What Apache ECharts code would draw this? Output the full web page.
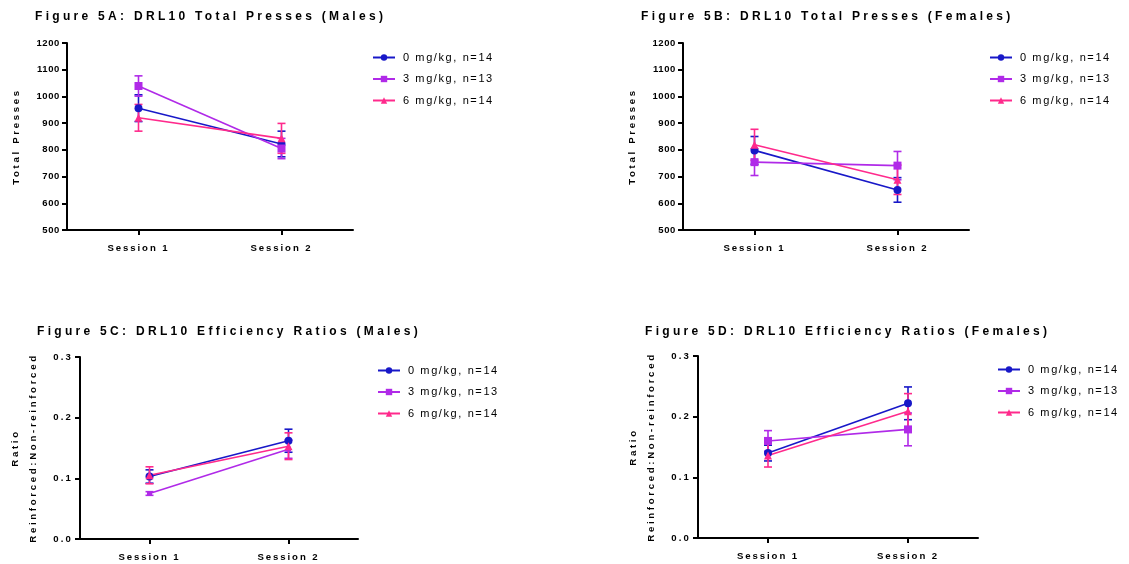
<!DOCTYPE html>
<html>
<head>
<meta charset="utf-8">
<script src="https://cdn.jsdelivr.net/npm/echarts@6/dist/echarts.min.js"></script>
<style>html,body{margin:0;padding:0;background:#fff}#c{width:1129px;height:564px}</style>
</head>
<body>
<div id="c"></div>
<script>
// ---------- data ----------
const categories = ['Session 1', 'Session 2'];
const groups = ['0 mg/kg, n=14', '3 mg/kg, n=13', '6 mg/kg, n=14'];
const titles = [
  'Figure 5A: DRL10 Total Presses (Males)',
  'Figure 5B: DRL10 Total Presses (Females)',
  'Figure 5C: DRL10 Efficiency Ratios (Males)',
  'Figure 5D: DRL10 Efficiency Ratios (Females)'
];
const yNames = ['Total Presses', 'Total Presses', 'Ratio\nReinforced:Non-reinforced', 'Ratio\nReinforced:Non-reinforced'];
const pressTicks = [500, 600, 700, 800, 900, 1000, 1100, 1200];
const ratioTicks = [0.0, 0.1, 0.2, 0.3];

// Fig 5A (males, total presses)
const aMean0 = [956, 822];   const aSem0 = [50, 48];
const aMean3 = [1039, 805];  const aSem3 = [38, 38];
const aMean6 = [920, 843];   const aSem6 = [50, 56];
// Fig 5B (females, total presses)
const bMean0 = [798, 650];   const bSem0 = [52, 46];
const bMean3 = [754, 741];   const bSem3 = [50, 53];
const bMean6 = [819, 688];   const bSem6 = [58, 55];
// Fig 5C (males, ratio)
const cMean0 = [0.103, 0.162]; const cSem0 = [0.011, 0.019];
const cMean3 = [0.075, 0.148]; const cSem3 = [0.003, 0.015];
const cMean6 = [0.105, 0.153]; const cSem6 = [0.014, 0.022];
// Fig 5D (females, ratio)
const dMean0 = [0.140, 0.222]; const dSem0 = [0.013, 0.027];
const dMean3 = [0.160, 0.179]; const dSem3 = [0.017, 0.027];
const dMean6 = [0.136, 0.209]; const dSem6 = [0.019, 0.029];

// ---------- letter spacing emulation (font-size keyed) ----------
const SPACING = {'b12': 3.3, 'n11': 1.6, 'b9.7': 2.65, 'b9.6': 1.9, 'b9.5': 0.6, 'b9.55': 2.2};
(function () {
  const P = CanvasRenderingContext2D.prototype;
  const orig = P.fillText;
  P.fillText = function (t, x, y, m) {
    try {
      const f = this.font || '';
      const mm = f.match(/([\d.]+)px/);
      const bold = /bold|[6-9]00/.test(f);
      const key = (bold ? 'b' : 'n') + (mm ? parseFloat(mm[1]) : '');
      const ls = SPACING[key];
      this.letterSpacing = (ls != null ? ls : 0) + 'px';
    } catch (e) {}
    return arguments.length > 3 ? orig.call(this, t, x, y, m) : orig.call(this, t, x, y);
  };
})();

// ---------- layout ----------
const FONT = 'Liberation Sans';
const colors = ['#1818c8', '#b02ae8', '#ff2a8c'];
const symbols = ['circle', 'rect', 'triangle'];
const panels = [
  {grid: {left: 67, top: 43, width: 286, height: 187}, title: {left: 35, top: 11}, legend: {left: 372, top: 52},
   ticks: pressTicks, yLabelSize: 9.5, yMargin: 7, nameGap: 42,
   means: [aMean0, aMean3, aMean6], sems: [aSem0, aSem3, aSem6], sym: [8, 8, 8]},
  {grid: {left: 683, top: 43, width: 286, height: 187}, title: {left: 641, top: 11}, legend: {left: 989, top: 52},
   ticks: pressTicks, yLabelSize: 9.5, yMargin: 7, nameGap: 42,
   means: [bMean0, bMean3, bMean6], sems: [bSem0, bSem3, bSem6], sym: [8, 8, 8]},
  {grid: {left: 80, top: 357, width: 278, height: 182}, title: {left: 37, top: 326}, legend: {left: 377, top: 365},
   ticks: ratioTicks, yLabelSize: 9.55, yMargin: 7, nameGap: 38,
   means: [cMean0, cMean3, cMean6], sems: [cSem0, cSem3, cSem6], sym: [8, 5, 8]},
  {grid: {left: 698, top: 356, width: 280, height: 182}, title: {left: 645, top: 326}, legend: {left: 997, top: 364},
   ticks: ratioTicks, yLabelSize: 9.55, yMargin: 7, nameGap: 38,
   means: [dMean0, dMean3, dMean6], sems: [dSem0, dSem3, dSem6], sym: [8, 8, 8]}
];

const axisLine = {show: true, lineStyle: {color: '#000', width: 2}};
const option = {
  animation: false,
  backgroundColor: '#fff',
  title: [], legend: [], grid: [], xAxis: [], yAxis: [], series: []
};

panels.forEach((p, pi) => {
  const ticks = p.ticks;
  const step = ticks[1] - ticks[0];
  option.grid.push(Object.assign({}, p.grid));
  option.title.push({
    text: titles[pi], left: p.title.left, top: p.title.top, padding: 0,
    textStyle: {fontFamily: FONT, fontWeight: 'bold', fontSize: 12, color: '#000'}
  });
  option.legend.push({
    data: groups, orient: 'vertical', left: p.legend.left, top: p.legend.top, padding: 0,
    itemWidth: 22, itemHeight: 8, itemGap: 10.5, selectedMode: false,
    textStyle: {fontFamily: FONT, fontSize: 11, color: '#000', padding: [0, 0, 0, 3]}
  });
  option.xAxis.push({
    type: 'category', gridIndex: pi, data: categories, boundaryGap: true,
    axisLine: axisLine,
    axisTick: {show: true, alignWithLabel: true, length: 5, lineStyle: {color: '#000', width: 2}},
    axisLabel: {fontFamily: FONT, fontWeight: 'bold', fontSize: 9.6, color: '#000', margin: 13},
    splitLine: {show: false}
  });
  option.yAxis.push({
    type: 'value', gridIndex: pi, min: ticks[0], max: ticks[ticks.length - 1], interval: step,
    name: yNames[pi], nameLocation: 'middle', nameGap: p.nameGap, nameRotate: 90,
    nameTextStyle: {fontFamily: FONT, fontWeight: 'bold', fontSize: 9.7, color: '#000', lineHeight: 18, align: 'center'},
    axisLine: axisLine,
    axisTick: {show: true, length: 5, lineStyle: {color: '#000', width: 2}},
    axisLabel: {fontFamily: FONT, fontWeight: 'bold', fontSize: p.yLabelSize, color: '#000', margin: p.yMargin,
      formatter: v => step < 1 ? v.toFixed(1) : String(v)},
    splitLine: {show: false}
  });
  groups.forEach((g, gi) => {
    const mean = p.means[gi], sem = p.sems[gi], col = colors[gi];
    option.series.push({
      type: 'custom', name: g + ' SEM', xAxisIndex: pi, yAxisIndex: pi, z: 2, silent: true,
      data: categories.map((c, i) => [i, mean[i] - sem[i], mean[i] + sem[i]]),
      encode: {x: 0, y: [1, 2]},
      renderItem: (params, api) => {
        const lo = api.coord([api.value(0), api.value(1)]);
        const hi = api.coord([api.value(0), api.value(2)]);
        const w = 4, st = {stroke: col, lineWidth: 1.6};
        return {type: 'group', children: [
          {type: 'line', shape: {x1: lo[0], y1: lo[1], x2: hi[0], y2: hi[1]}, style: st},
          {type: 'line', shape: {x1: lo[0] - w, y1: lo[1], x2: lo[0] + w, y2: lo[1]}, style: st},
          {type: 'line', shape: {x1: hi[0] - w, y1: hi[1], x2: hi[0] + w, y2: hi[1]}, style: st}
        ]};
      }
    });
    option.series.push({
      type: 'line', name: g, xAxisIndex: pi, yAxisIndex: pi, z: 3,
      data: mean, symbol: symbols[gi], symbolSize: p.sym[gi], showSymbol: true,
      color: col, itemStyle: {color: col}, lineStyle: {color: col, width: 1.6}
    });
  });
});

const chart = echarts.init(document.getElementById('c'), null, {renderer: 'canvas'});
chart.setOption(option);
</script>
</body>
</html>
